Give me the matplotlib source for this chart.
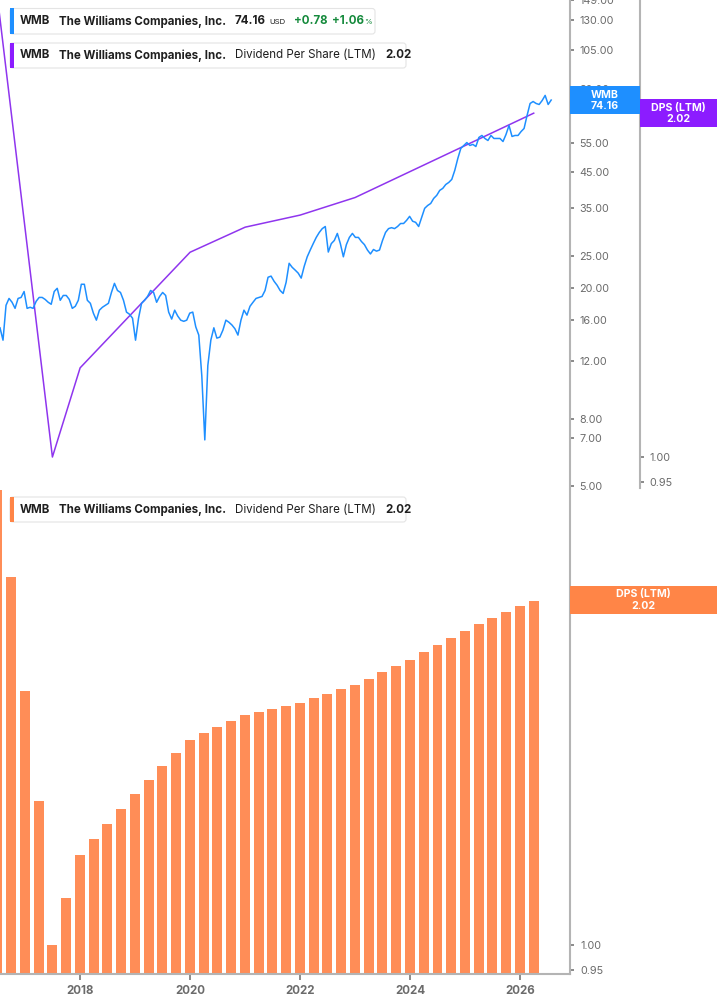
import matplotlib
matplotlib.use('Agg')
import matplotlib.pyplot as plt
import matplotlib.dates as mdates
from matplotlib.patches import FancyBboxPatch, Rectangle
from matplotlib.ticker import FixedLocator, FixedFormatter, NullLocator
import pandas as pd

plt.rcParams['font.family'] = ['Inter', 'DejaVu Sans']

# ---------------- data ----------------
price_start = '2016-07-18'
price_step = '20D'
wmb_price = [
    15.1, 13.85, 17.67, 18.54, 18.05, 17.3, 18.54, 18.67, 19.46, 17.3,
    17.43, 17.3, 18.17, 18.67, 18.67, 18.41, 18.05, 17.8, 19.46, 19.9,
    18.3, 18.93, 18.93, 18.41, 17.3, 17.55, 18.3, 20.47, 20.47, 18.3,
    17.92, 16.73, 15.93, 17.08, 17.43, 17.67, 17.92, 19.33, 20.6, 19.6,
    19.33, 18.3, 16.85, 16.6, 16.15, 13.85, 16.15, 17.92, 18.3, 18.8,
    19.6, 19.33, 18.05, 18.8, 19.33, 18.93, 16.85, 16.05, 17.08, 16.4,
    15.93, 15.8, 15.93, 16.73, 16.85, 15.2, 14.35, 10.8, 6.9, 11.6,
    13.85, 15.1, 14.05, 14.15, 14.85, 15.93, 15.7, 15.4, 15.0, 14.35,
    15.93, 17.08, 16.5, 17.55, 18.05, 18.54, 18.67, 18.8, 19.6, 21.5,
    21.67, 20.9, 20.33, 19.6, 19.2, 20.76, 23.7, 23.05, 22.6, 22.13,
    21.37, 23.2, 24.8, 26.0, 27.2, 28.4, 29.4, 30.2, 30.65, 25.64,
    27.2, 27.8, 29.2, 27.2, 24.8, 27.0, 28.4, 29.2, 28.4, 28.4,
    27.6, 27.0, 26.0, 25.3, 26.1, 25.8, 26.0, 27.8, 29.4, 30.2,
    30.4, 30.2, 30.65, 31.3, 31.3, 32.0, 32.9, 31.8, 31.55, 30.65,
    32.7, 34.8, 35.5, 36.0, 37.3, 38.1, 39.45, 40.0, 41.1, 41.7,
    42.6, 45.4, 49.3, 52.9, 54.0, 55.1, 54.0, 54.4, 53.6, 57.1,
    57.9, 56.7, 55.9, 57.9, 56.7, 56.7, 56.7, 55.5, 58.3, 62.1,
    57.5, 57.9, 57.9, 59.5, 60.8, 66.6, 72.4, 73.4, 72.4, 71.9,
    73.9, 76.6, 71.9, 74.16,
]

dps_start = '2016-07-01'
dps_ltm = [
    2.56, 2.12, 1.68, 1.34, 1.00, 1.10, 1.20, 1.24, 1.28, 1.32,
    1.36, 1.40, 1.44, 1.48, 1.52, 1.54, 1.56, 1.58, 1.60, 1.61,
    1.62, 1.63, 1.64, 1.655, 1.67, 1.685, 1.70, 1.7225, 1.745, 1.7675,
    1.79, 1.8175, 1.845, 1.8725, 1.90, 1.925, 1.95, 1.975, 2.00, 2.02,
]

dps_line_dates = ['2016-07-01', '2017-07-01', '2018-01-01', '2020-01-01',
                  '2021-01-01', '2022-01-01', '2023-01-01', '2026-04-01']
dps_line_values = [2.56, 1.00, 1.20, 1.52, 1.60, 1.64, 1.70, 2.02]

price_ticks = [5, 7, 8, 12, 16, 20, 25, 35, 45, 55, 80, 105, 130, 149]
dps_ticks = [0.95, 1.00, 2.00]
year_ticks = [2018, 2020, 2022, 2024, 2026]

last_price = '74.16'
change = '+0.78'
change_pct = '+1.06'
last_dps = '2.02'

# ---------------- styling ----------------
W, H = 717, 1005
BLUE = '#1e8fff'
PURPLE = '#8c1cff'
PURPLE_LINE = '#8f35ee'
ORANGE = '#ff8d57'
ORANGE_BOX = '#ff8547'
AXIS = '#b4b4b4'
TICKTXT = '#6b6b6b'
DARK = '#1f1f1f'
GREEN = '#158a3c'

fig = plt.figure(figsize=(W / 100, H / 100), dpi=100)
fig.patch.set_facecolor('white')


def fx(px):
    return px / W


def fy(py):
    return 1 - py / H


xmin = pd.Timestamp('2016-07-18')
xmax = pd.Timestamp('2026-11-28')

price_dates = pd.date_range(price_start, periods=len(wmb_price), freq=price_step)
dps_dates = pd.date_range(dps_start, periods=len(dps_ltm), freq='QS')
line_dates = pd.to_datetime(dps_line_dates)


def style_yaxis(a, ticks, pad):
    a.yaxis.set_major_locator(FixedLocator(ticks))
    a.yaxis.set_major_formatter(FixedFormatter([f'{t:.2f}' for t in ticks]))
    a.yaxis.set_minor_locator(NullLocator())
    a.tick_params(axis='y', which='major', left=False, labelleft=False,
                  right=True, labelright=True, length=3, width=1.2,
                  color='#777777', labelsize=7.8, labelcolor=TICKTXT, pad=pad)


# ---------------- top panel ----------------
ax = fig.add_axes([0, fy(488), fx(570), (488) / H])
ax2 = ax.twinx()

ax.plot(price_dates, wmb_price, color=BLUE, lw=1.1, zorder=3)
ax.set_yscale('log')
ax.set_ylim(4.93, 149.2)
ax.set_xlim(xmin, xmax)
style_yaxis(ax, price_ticks, 3.5)
ax.tick_params(axis='x', which='both', bottom=False, labelbottom=False)
for s in ['left', 'top', 'bottom']:
    ax.spines[s].set_visible(False)
ax.spines['right'].set_color(AXIS)
ax.spines['right'].set_linewidth(1.5)

ax2.plot(line_dates, dps_line_values, color=PURPLE_LINE, lw=1.1, zorder=2)
ax2.set_yscale('log')
ax2.set_ylim(0.9386, 2.546)
ax2.set_xlim(xmin, xmax)
style_yaxis(ax2, dps_ticks, 3.5)
for s in ['left', 'top', 'bottom']:
    ax2.spines[s].set_visible(False)
ax2.spines['right'].set_position(('axes', 640 / 570))
ax2.spines['right'].set_color(AXIS)
ax2.spines['right'].set_linewidth(1.5)
ax2.set_zorder(ax.get_zorder() - 1)
ax.patch.set_visible(False)

# ---------------- bottom panel ----------------
bx = fig.add_axes([0, fy(974), fx(570), (974 - 490) / H])
base = 0.85
bx.bar(dps_dates, [v - base for v in dps_ltm], bottom=base, width=66,
       color=ORANGE, align='center', zorder=2)
bx.set_yscale('log')
bx.set_ylim(0.9415, 2.533)
bx.set_xlim(xmin, xmax)
style_yaxis(bx, dps_ticks, 4.5)
year_dates = [pd.Timestamp(f'{y}-01-01') for y in year_ticks]
bx.xaxis.set_major_locator(FixedLocator(mdates.date2num(year_dates)))
bx.xaxis.set_major_formatter(FixedFormatter([str(y) for y in year_ticks]))
bx.xaxis.set_minor_locator(NullLocator())
bx.tick_params(axis='x', which='major', length=4, width=1.2, color='#777777',
               labelsize=8.3, labelcolor=TICKTXT, pad=4)
for lab in bx.get_xticklabels():
    lab.set_fontweight('bold')
for s in ['left', 'top']:
    bx.spines[s].set_visible(False)
for s in ['right', 'bottom']:
    bx.spines[s].set_color(AXIS)
    bx.spines[s].set_linewidth(1.5)

# ---------------- legend boxes ----------------


def legend_box(x0, y0, x1, y1, color):
    box = FancyBboxPatch((fx(x0), fy(y1)), fx(x1) - fx(x0), (y1 - y0) / H,
                         boxstyle='round,pad=0,rounding_size=0.004',
                         mutation_aspect=W / H,
                         transform=fig.transFigure, facecolor='white',
                         edgecolor='#e4e4e4', lw=0.8, zorder=5)
    fig.add_artist(box)
    bar = Rectangle((fx(x0), fy(y1)), fx(4), (y1 - y0) / H,
                    transform=fig.transFigure, facecolor=color,
                    edgecolor='none', zorder=6)
    fig.add_artist(bar)


def put(px, py, s, size=8.3, weight='bold', color=DARK, ha='left'):
    fig.text(fx(px), fy(py), s, fontsize=size, fontweight=weight,
             color=color, ha=ha, va='center', zorder=7)


legend_box(10, 8.5, 375, 34, BLUE)
put(20, 21.5, 'WMB')
put(59, 21.5, 'The Williams Companies, Inc.')
put(235, 21.5, last_price)
put(269, 22.5, 'USD', size=5.6, weight='normal')
put(294, 21.5, change, color=GREEN)
put(332, 21.5, change_pct, color=GREEN)
put(364, 22.5, '%', size=5.6, weight='normal', color=GREEN)

legend_box(10, 43, 406, 68, PURPLE)
put(20, 55.5, 'WMB')
put(59, 55.5, 'The Williams Companies, Inc.')
put(235, 55.5, 'Dividend Per Share (LTM)', weight='normal')
put(385, 55.5, last_dps)

legend_box(10, 497, 406, 522, ORANGE_BOX)
put(20, 509.5, 'WMB')
put(59, 509.5, 'The Williams Companies, Inc.')
put(235, 509.5, 'Dividend Per Share (LTM)', weight='normal')
put(385, 509.5, last_dps)

# ---------------- right-side value labels ----------------


def value_box(x0, y0, x1, y1, color, l1, l2):
    r = Rectangle((fx(x0), fy(y1)), fx(x1) - fx(x0), (y1 - y0) / H,
                  transform=fig.transFigure, facecolor=color,
                  edgecolor='none', zorder=6)
    fig.add_artist(r)
    cx = (x0 + x1) / 2
    put(cx, y0 + 8.5, l1, size=7.6, color='white', ha='center')
    put(cx, y0 + 20, l2, size=7.6, color='white', ha='center')


value_box(570, 86, 640, 114, BLUE, 'WMB', last_price)
value_box(640, 99, 717, 127, PURPLE, 'DPS (LTM)', last_dps)
value_box(570, 586, 717, 614, ORANGE_BOX, 'DPS (LTM)', last_dps)

fig.savefig('out.png', dpi=100, facecolor='white')
